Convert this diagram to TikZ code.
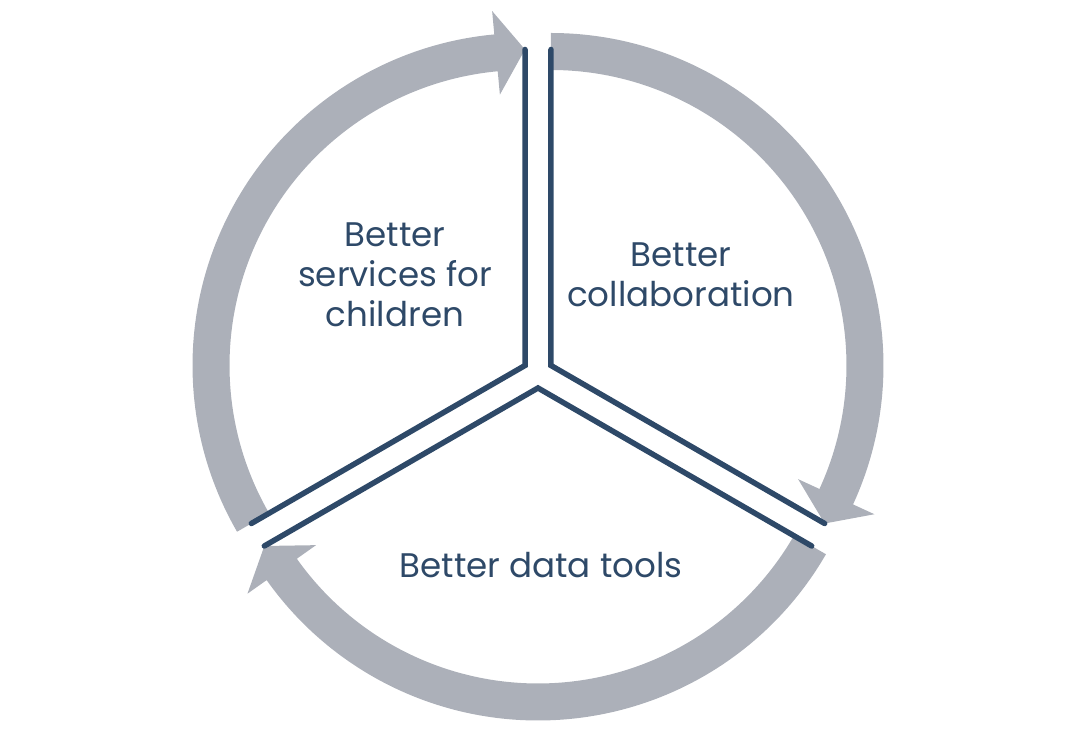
\documentclass[tikz,border=0pt]{standalone}
\usepackage{fontspec}
\setmainfont{Poppins}
\usetikzlibrary{calc}
\definecolor{cyclegray}{RGB}{172,176,185}
\definecolor{cycleblue}{RGB}{46,73,104}

\begin{document}
\begin{tikzpicture}[x=0.2mm,y=0.2mm,
  edge/.style={draw=cycleblue,line width=1.1mm,line cap=round,line join=miter},
  sectortext/.style={text=cycleblue,align=center,
    font=\fontsize{19.4pt}{22.8pt}\selectfont},
  cyclearrow/.style={fill=cyclegray}]
  \useasboundingbox (0,0) rectangle (1076,756);
  \coordinate (ctr) at (538,383);
  \coordinate (left) at ($(ctr)+(150:15)$);
  \coordinate (right) at ($(ctr)+(30:15)$);
  \coordinate (bottom) at ($(ctr)+(270:15)$);

  \fill[cyclearrow] (left) ++(210:332.5) arc[start angle=210,end angle=95.3,radius=332.5]
    -- ($(left)+(95.3:356)$) -- ($(left)+(90:316)$) -- ($(left)+(95.3:272)$)
    -- ($(left)+(95.3:295.5)$) arc[start angle=95.3,end angle=210,radius=295.5] -- cycle;
  \fill[cyclearrow] (right) ++(90:332.5) arc[start angle=90,end angle=-24.7,radius=332.5]
    -- ($(right)+(-24.7:356)$) -- ($(right)+(-30:316)$) -- ($(right)+(-24.7:272)$)
    -- ($(right)+(-24.7:295.5)$) arc[start angle=-24.7,end angle=90,radius=295.5] -- cycle;
  \fill[cyclearrow] (bottom) ++(-30:332.5) arc[start angle=-30,end angle=-144.7,radius=332.5]
    -- ($(bottom)+(-144.7:356)$) -- ($(bottom)+(-150:316)$) -- ($(bottom)+(-144.7:272)$)
    -- ($(bottom)+(-144.7:295.5)$) arc[start angle=-144.7,end angle=-30,radius=295.5] -- cycle;

  \draw[edge] (left) ++(90:316) -- (left) -- ++(210:316);
  \draw[edge] (right) ++(90:316) -- (right) -- ++(-30:316);
  \draw[edge] (bottom) ++(210:316) -- (bottom) -- ++(-30:316);

  \node[sectortext] (services) at (395,481.5) {Better\\services for\\children};
  \node[sectortext] (collab) at (681,481) {Better\\collaboration};
  \node[sectortext] (datatools) at (541,191) {Better data tools};
\end{tikzpicture}
\end{document}
